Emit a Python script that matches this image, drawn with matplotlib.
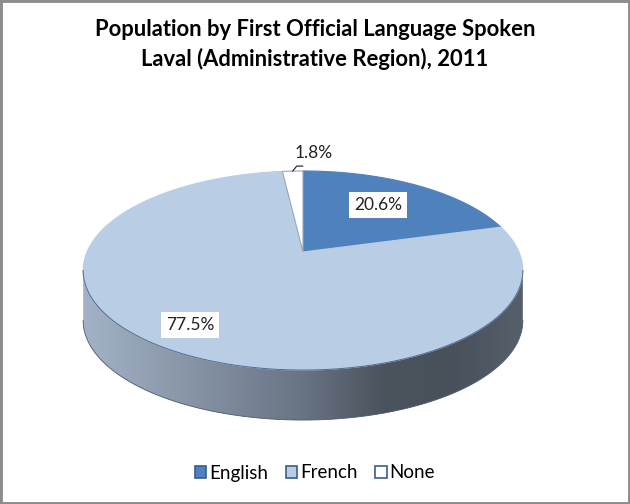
import numpy as np
import matplotlib
matplotlib.use("Agg")
import matplotlib.pyplot as plt
from matplotlib.patches import Polygon, Patch, Rectangle
from matplotlib.colors import LinearSegmentedColormap

# ---- data ----
languages = ["English", "French", "None"]
shares = [20.6, 77.5, 1.8]
labels = ["20.6%", "77.5%", "1.8%"]
title_lines = ["Population by First Official Language Spoken",
               "Laval (Administrative Region), 2011"]

face_colors = ["#4F81BD", "#B9CDE5", "#FFFFFF"]
edge_dark = "#385D8A"

# ---- 3D pie geometry (pixel space) ----
CX, CY = 303, 252      # apex of the pie on screen
A, B = 216, 96.1       # horizontal / vertical radius
P = 0.186              # perspective factor
H = 50                 # thickness of the pie

def project(phi, r=1.0, dz=0.0):
    # phi clockwise from 12 o'clock
    u = r * np.sin(phi)
    v = -r * np.cos(phi)
    w = 1 - P * v
    return CX + A * u / w, CY + B * v / w + dz

fig = plt.figure(figsize=(6.3, 5.04), dpi=100)
ax = fig.add_axes([0, 0, 1, 1])
ax.set_axis_off()

fracs = np.array(shares) / np.sum(shares)
bounds = np.concatenate([[0], np.cumsum(fracs)]) * 2 * np.pi

# side of the pie (front half only is visible)
phi_r = np.arccos(-P)
phi_l = 2 * np.pi - phi_r
arc = np.linspace(phi_r, phi_l, 200)
tx, ty = project(arc)
bx, by = project(arc[::-1], dz=H)
side = Polygon(np.column_stack([np.r_[tx, bx], np.r_[ty, by]]), closed=True,
               facecolor="none", edgecolor="none")
ax.add_patch(side)
side_cmap = LinearSegmentedColormap.from_list(
    "side", [(0.0, "#A3B2C6"), (0.27, "#8491A3"), (0.5, "#687383"),
             (0.68, "#4B535D"), (0.83, "#48505A"), (1.0, "#56606B")])
grad = np.linspace(0, 1, 256).reshape(1, -1)
im = ax.imshow(grad, cmap=side_cmap, extent=(83, 525, 440, 250), aspect="auto",
               interpolation="bilinear", zorder=1)
im.set_clip_path(side)
ax.plot(bx[::-1], by[::-1], color="#4A5A70", lw=0.6, zorder=2)

# top faces
for i, lang in enumerate(languages):
    phis = np.linspace(bounds[i], bounds[i + 1], 120)
    px, py = project(phis)
    poly = Polygon(np.column_stack([np.r_[CX, px], np.r_[CY, py]]), closed=True,
                   facecolor=face_colors[i],
                   edgecolor="#9AA6B6" if lang == "None" else face_colors[i],
                   lw=0.8, zorder=3)
    ax.add_patch(poly)

# thin outline of the top face at the front
ax.plot(tx, ty, color="#4F6B92", lw=0.7, zorder=4)

# data labels
label_r = [0.63, 0.82]
label_dy = [-3, -2]
for i in range(2):
    mid = 0.5 * (bounds[i] + bounds[i + 1])
    lx, ly = project(mid, r=label_r[i])
    ax.text(lx, ly + label_dy[i], labels[i], ha="center", va="center",
            fontsize=12.5, family="Lato", color="#222222", zorder=6,
            bbox=dict(boxstyle="square,pad=0.3", fc="white", ec="none"))

# small slice label with leader line
mid = 0.5 * (bounds[2] + bounds[3])
axx, ayy = project(mid)
ax.plot([axx, axx + 4, axx + 10], [ayy, ayy - 5, ayy - 5], color="#333333",
        lw=0.9, zorder=6)
ax.text(axx + 21, ayy - 18, labels[2], ha="center", va="center", fontsize=12.5,
        family="Lato", color="#222222", zorder=6)

ax.set_xlim(0, 630)
ax.set_ylim(504, 0)

# title
for k, line in enumerate(title_lines):
    fig.text(0.5, 1 - (30 + 29 * k) / 504, line, ha="center", va="center",
             fontsize=15.8, fontweight="bold", family="Lato")

# legend
handles = [Patch(facecolor=c, edgecolor=edge_dark, lw=1.2) for c in face_colors]
fig.legend(handles, languages, loc="center", bbox_to_anchor=(0.5, 1 - 473 / 504),
           ncol=3, frameon=False, prop={"family": "Lato", "size": 13.5},
           handlelength=0.6, handleheight=0.6, handletextpad=0.15,
           columnspacing=0.95)

# grey frame around the chart
fig.add_artist(Rectangle((0, 0), 1, 1, transform=fig.transFigure, fill=False,
                         edgecolor="#8C8C8C", lw=3.5))

fig.savefig("out.png", dpi=100, facecolor="white")
